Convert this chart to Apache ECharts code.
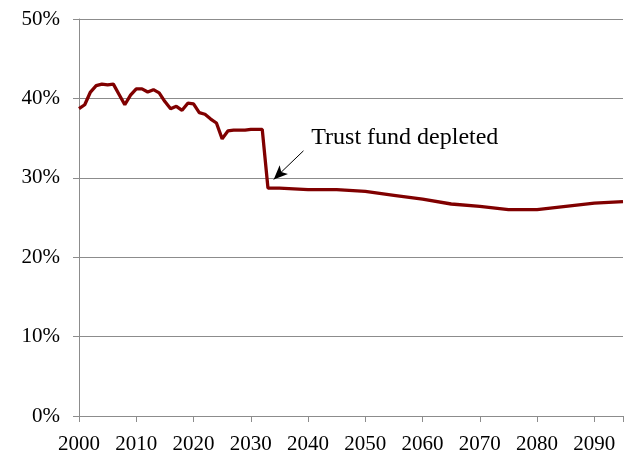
<!DOCTYPE html>
<html><head><meta charset="utf-8">
<script src="https://cdn.jsdelivr.net/npm/echarts@6/dist/echarts.min.js"></script>
<style>html,body{margin:0;padding:0;background:#fff}#c{width:627px;height:455px}</style>
</head><body><div id="c"></div>
<script>
const years = [2000,2001,2002,2003,2004,2005,2006,2007,2008,2009,2010,2011,2012,2013,2014,2015,2016,2017,2018,2019,2020,2021,2022,2023,2024,2025,2026,2027,2028,2029,2030,2031,2032,2033,2035,2040,2045,2050,2055,2060,2065,2070,2075,2080,2085,2090,2095];
const values = [38.7,39.2,40.8,41.6,41.8,41.7,41.8,40.5,39.2,40.4,41.2,41.2,40.8,41.1,40.7,39.6,38.7,39.0,38.5,39.4,39.3,38.2,38.0,37.4,36.9,34.9,35.9,36.0,36.0,36.0,36.1,36.1,36.1,28.7,28.7,28.5,28.5,28.3,27.8,27.3,26.7,26.4,26.0,26.0,26.4,26.8,27.0];
const annotationText = "Trust fund depleted";
const annotationAt = [2039.6, 35.0];
const arrowFrom = [2039.2, 33.4];
const arrowTo = [2034.0, 29.8];

const chart = echarts.init(document.getElementById('c'));
const font = "'Liberation Serif','Times New Roman',serif";
chart.setOption({
  animation:false,
  grid:{left:79,right:4,top:19,bottom:39,containLabel:false},
  xAxis:{type:'value',min:2000,max:2095,interval:10,
    axisLine:{lineStyle:{color:'#8c8c8c',width:1}},
    axisTick:{show:true,length:6,lineStyle:{color:'#8c8c8c'}},
    axisLabel:{color:'#000',fontFamily:font,fontSize:21,margin:18,
      formatter:v=> (v%10===0 && v<=2090) ? String(v) : ''},
    splitLine:{show:false}},
  yAxis:{type:'value',min:0,max:50,interval:10,
    axisLine:{show:true,lineStyle:{color:'#8c8c8c',width:1}},
    axisTick:{show:true,length:6,lineStyle:{color:'#8c8c8c'}},
    axisLabel:{color:'#000',fontFamily:font,fontSize:21,margin:19,formatter:v=>v+'%'},
    splitLine:{show:true,lineStyle:{color:'#8c8c8c',width:1}}},
  series:[{type:'line',data:years.map((y,i)=>[y,values[i]]),showSymbol:false,symbol:'none',
    lineStyle:{color:'#800000',width:3.3},
    markLine:{silent:true,symbol:['none','arrow'],symbolSize:[9,14],
      lineStyle:{color:'#000',width:1,type:'solid'},label:{show:false},
      data:[[{coord:arrowFrom},{coord:arrowTo}]]},
    markPoint:{silent:true,symbol:'rect',symbolSize:1,itemStyle:{color:'transparent'},
      data:[{coord:annotationAt,label:{show:true,position:'right',formatter:annotationText,color:'#000',fontFamily:font,fontSize:24}}]}
  }]
});
</script></body></html>
